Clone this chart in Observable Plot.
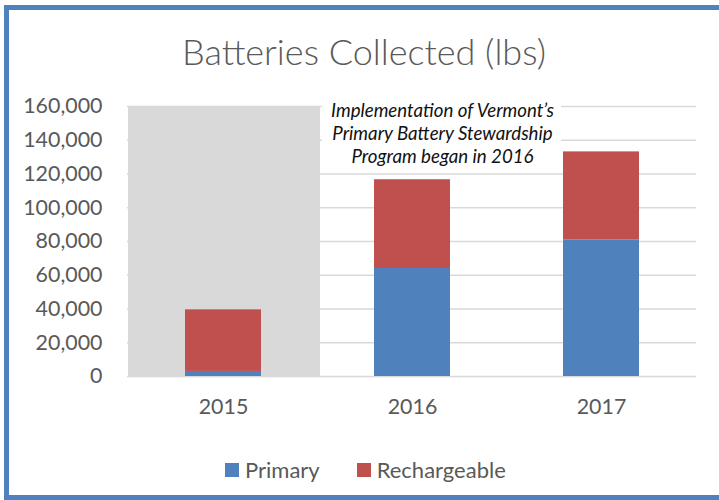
<!DOCTYPE html>
<html>
<head>
<meta charset="utf-8">
<script src="https://cdn.jsdelivr.net/npm/d3@7"></script>
<script src="https://cdn.jsdelivr.net/npm/@observablehq/plot@0.6"></script>
<style>
  html, body { margin: 0; padding: 0; width: 719px; height: 500px; overflow: hidden; background: #fff; font-family: Lato, "Open Sans", sans-serif; }
  #frame { position: absolute; left: 4px; top: 5px; width: 740px; height: 495px; box-sizing: border-box; border: 5px solid #4F81BD; }
  #title { position: absolute; left: 0; top: 33px; width: 728px; text-align: center; font-size: 36px; font-weight: 300; line-height: 1; color: #595959; }
  #chart { position: absolute; left: 0; top: 90px; }
  #legend { position: absolute; left: 225px; top: 458px; display: flex; align-items: center; font-size: 22px; color: #595959; line-height: 24px; }
  .sw { width: 14px; height: 14px; display: inline-block; margin-right: 6px; }
  .item { display: flex; align-items: center; margin-right: 37px; }
</style>
</head>
<body>
<div id="frame"></div>
<div id="title">Batteries Collected (lbs)</div>
<div id="chart"></div>
<div id="legend"></div>
<script>
const years = ["2015", "2016", "2017"];
const series = ["Primary", "Rechargeable"];
const primary = [3000, 64000, 81000];
const rechargeable = [36500, 52600, 52100];
const colors = ["#4F81BD", "#C0504D"];
const yTicks = [0, 20000, 40000, 60000, 80000, 100000, 120000, 140000, 160000];
const shadedYear = "2015";
const noteYear = "2016";
const noteText = "Implementation of Vermont\u2019s\nPrimary Battery Stewardship\nProgram began in 2016";
const noteY = 144600;
const noteBox = [121500, 166500];

const data = [];
years.forEach((y, i) => {
  data.push({year: y, series: "Primary", value: primary[i]});
  data.push({year: y, series: "Rechargeable", value: rechargeable[i]});
});

const plot = Plot.plot({
  width: 719,
  height: 340,
  marginTop: 16,
  marginBottom: 54,
  marginLeft: 127,
  marginRight: 23,
  style: {fontFamily: "Lato, 'Open Sans', sans-serif", color: "#595959", background: "transparent"},
  x: {domain: years, paddingInner: 0.6, paddingOuter: 0.3, label: null},
  y: {domain: [0, 160000], label: null},
  color: {domain: series, range: colors},
  marks: [
    Plot.gridY(yTicks, {stroke: "#D9D9D9", strokeOpacity: 1, strokeWidth: 1.5}),
    Plot.barY([shadedYear], {x: d => d, y: yTicks[yTicks.length - 1], fill: "#D9D9D9", insetLeft: -57, insetRight: -59}),
    Plot.barY(data, {x: "year", y: "value", fill: "series"}),
    Plot.barY([noteYear], {x: d => d, y1: noteBox[0], y2: noteBox[1], fill: "#fff", insetLeft: -52, insetRight: -111}),
    Plot.text([noteText], {x: () => noteYear, y: noteY, text: d => d, dx: 30, fontSize: 18.7, fontStyle: "italic", fill: "#111", lineHeight: 1.22, lineAnchor: "middle"}),
    Plot.axisY(yTicks, {tickSize: 0, tickPadding: 25, fontSize: 21.4, tickFormat: d3.format(","), label: null}),
    Plot.axisX({tickSize: 0, tickPadding: 22, fontSize: 21.4, label: null})
  ]
});
document.getElementById("chart").appendChild(plot);

const legend = document.getElementById("legend");
series.forEach((s, i) => {
  const item = document.createElement("div");
  item.className = "item";
  const sw = document.createElement("span");
  sw.className = "sw";
  sw.style.background = colors[i];
  item.appendChild(sw);
  item.appendChild(document.createTextNode(s));
  legend.appendChild(item);
});
</script>
</body>
</html>
